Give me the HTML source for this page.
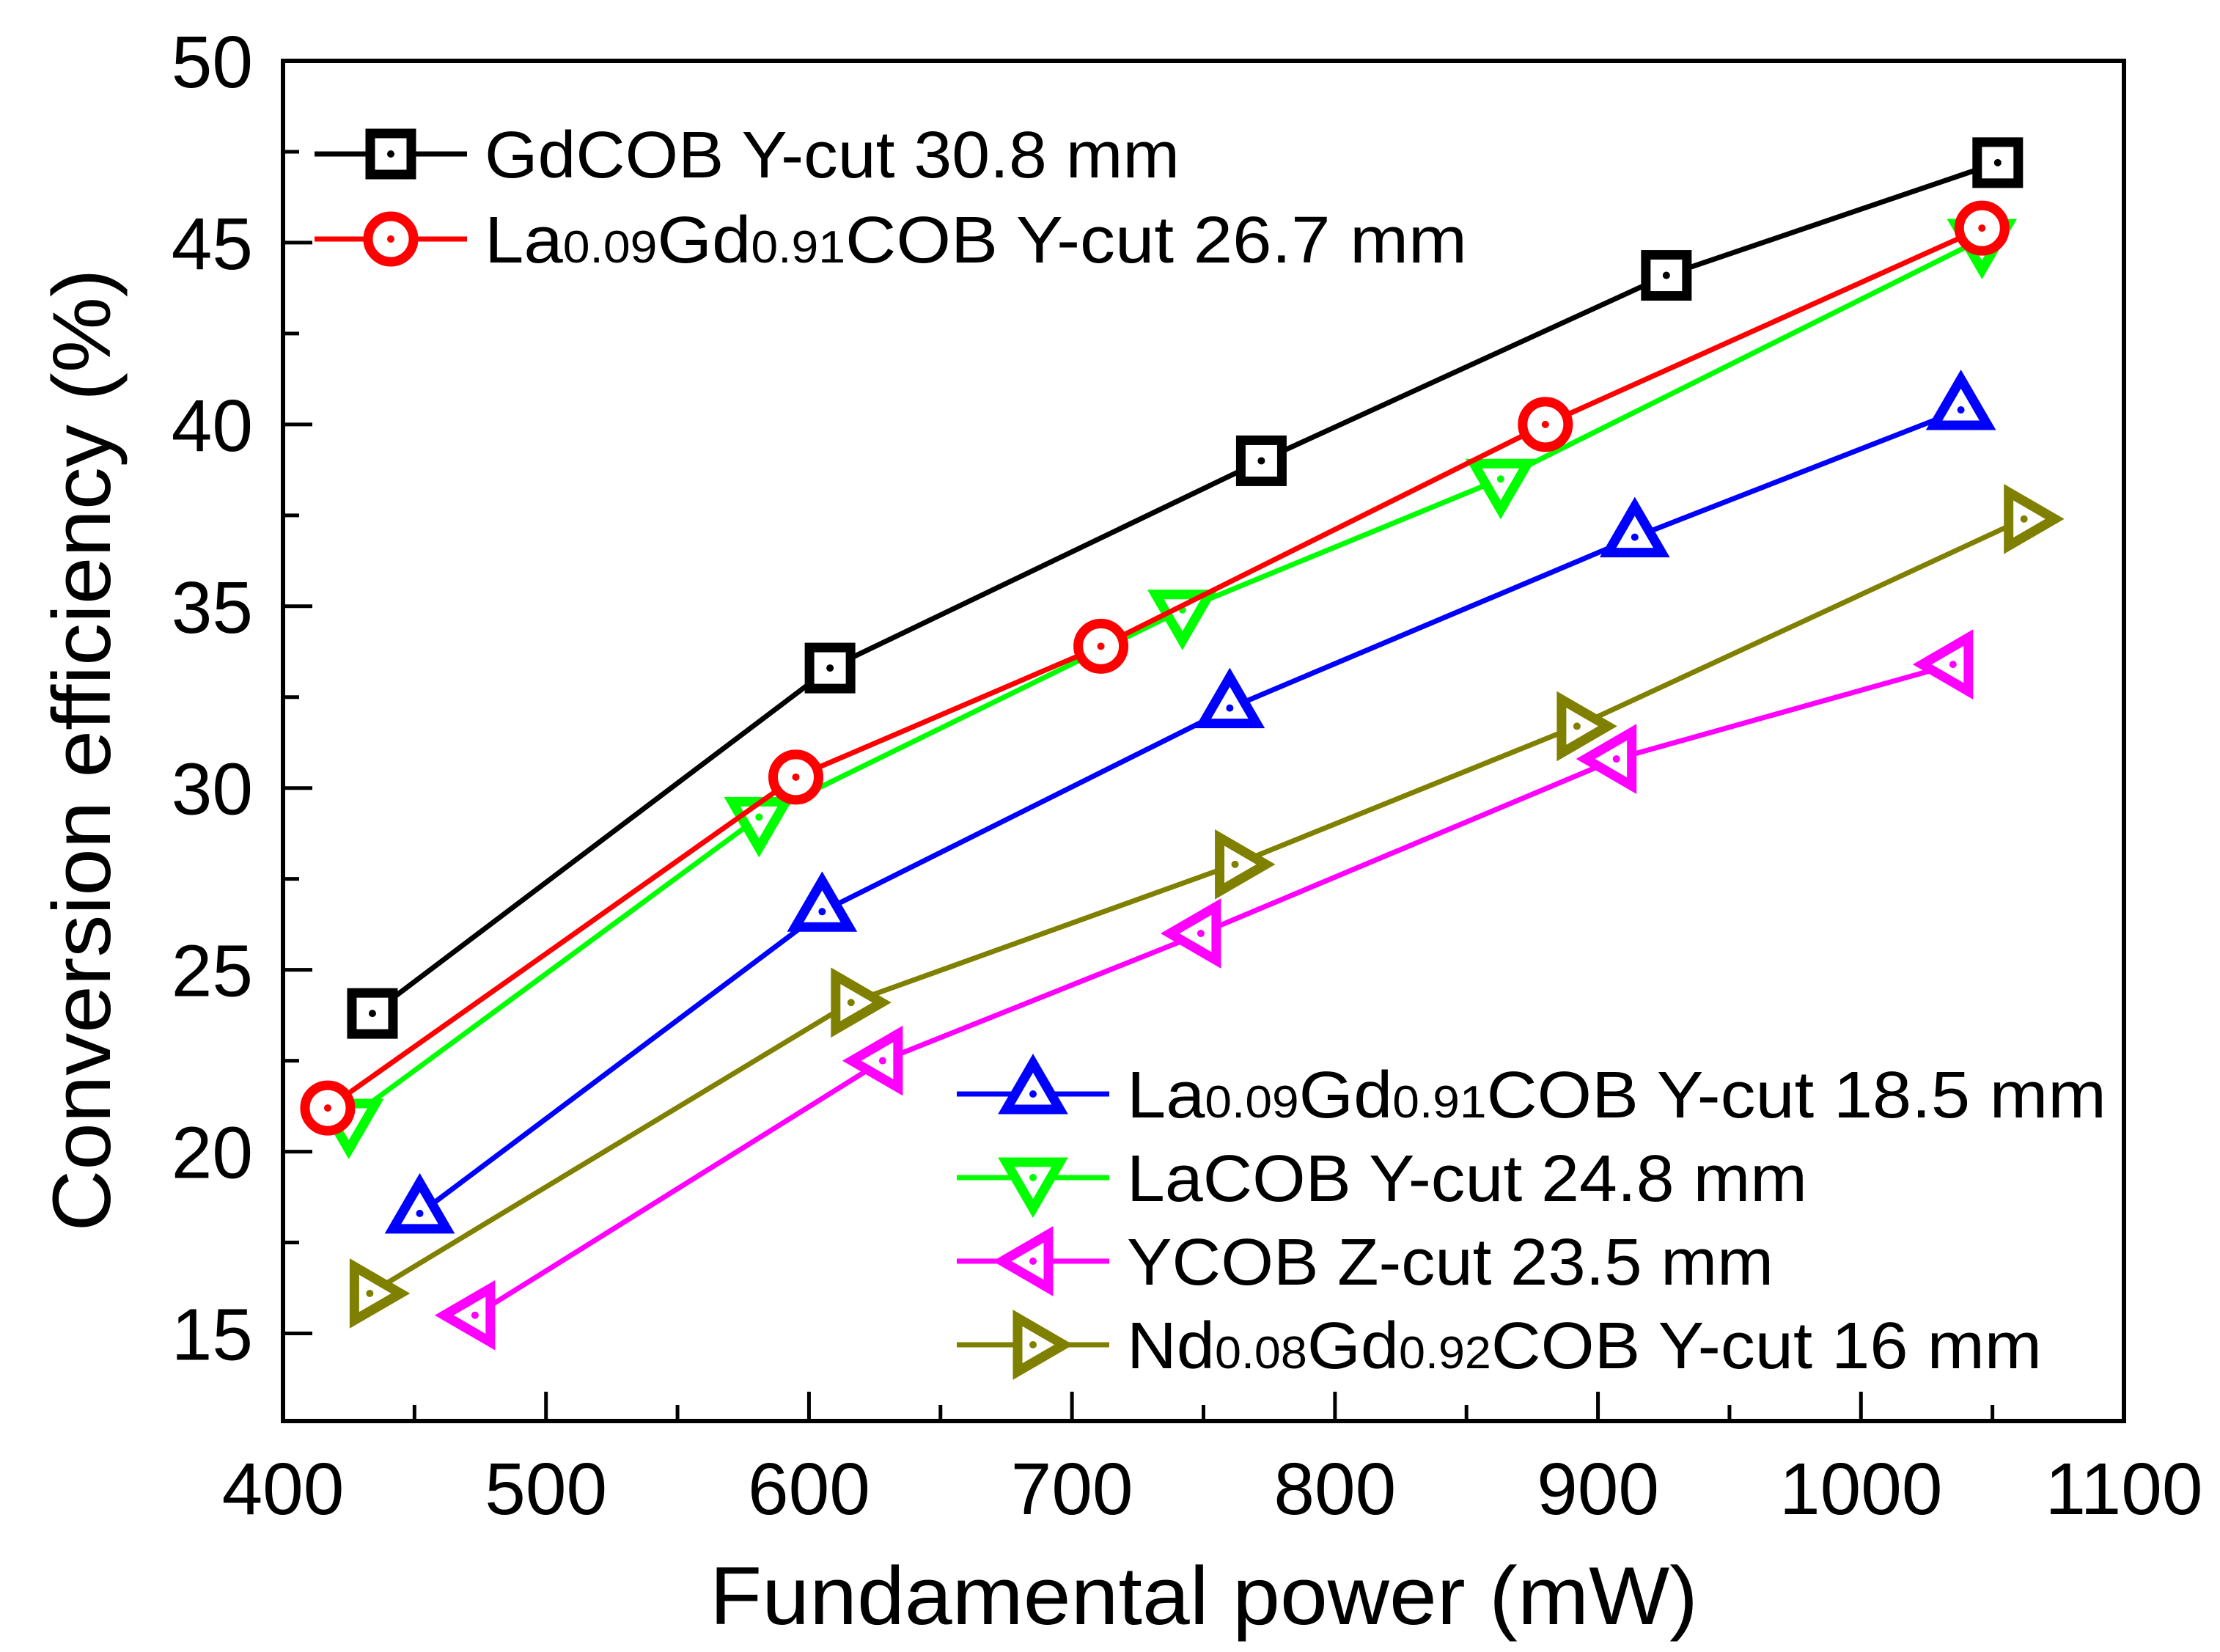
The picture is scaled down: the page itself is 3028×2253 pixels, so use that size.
<!DOCTYPE html>
<html><head><meta charset="utf-8"><style>
html,body{margin:0;padding:0;background:#fff;}
svg{display:block;font-family:"Liberation Sans",Arial,sans-serif;}
</style></head><body>
<svg id="chart" width="3028" height="2253" viewBox="0 0 3028 2253" xmlns="http://www.w3.org/2000/svg">
<rect x="386" y="83" width="2511" height="1855" fill="none" stroke="#000" stroke-width="6"/>
<g id="ticks"></g>
<g id="series"></g>
<text x="1642" y="2215" font-size="112" text-anchor="middle" textLength="1348" lengthAdjust="spacingAndGlyphs">Fundamental power (mW)</text>
<text transform="translate(150,1023) rotate(-90)" font-size="112" text-anchor="middle" textLength="1313" lengthAdjust="spacingAndGlyphs">Conversion efficiency (%)</text>
<g id="legend"></g>
</svg>
<script>
const NS="http://www.w3.org/2000/svg";
const xTicks=[400,500,600,700,800,900,1000,1100];
const yTicks=[15,20,25,30,35,40,45,50];
const seriesNames=["GdCOB Y-cut 30.8 mm","La0.09Gd0.91COB Y-cut 26.7 mm","La0.09Gd0.91COB Y-cut 18.5 mm","LaCOB Y-cut 24.8 mm","YCOB Z-cut 23.5 mm","Nd0.08Gd0.92COB Y-cut 16 mm"];
const xGd=[434,608,772,926,1052];
const yGd=[23.8,33.3,39.0,44.1,47.2];
const xLa267=[417,595,711,880,1046];
const yLa267=[21.2,30.3,33.9,40.0,45.4];
const xLa185=[452,605,760,914,1038];
const yLa185=[18.3,26.6,32.2,36.9,40.4];
const xLaCOB=[425,581,742,863,1046];
const yLaCOB=[20.9,29.2,34.9,38.5,45.1];
const xYCOB=[473,628,749,907,1035];
const yYCOB=[15.5,22.5,26.0,30.8,33.4];
const xNd=[433,616,762,892,1062];
const yNd=[16.1,24.1,27.9,31.7,37.4];

const X0=386,X1=2897,Y0=1938,Y1=83,XMIN=400,XMAX=1100,YMIN=12.59,YMAX=50;
function sx(v){return X0+(v-XMIN)/(XMAX-XMIN)*(X1-X0);}
function sy(v){return Y0-(v-YMIN)/(YMAX-YMIN)*(Y0-Y1);}
function mk(tag,attrs,parent){const e=document.createElementNS(NS,tag);for(const k in attrs)e.setAttribute(k,attrs[k]);parent.appendChild(e);return e;}

const tg=document.getElementById('ticks');
for(let v=XMIN;v<=XMAX;v+=50){
  const major=(v%100===0);
  const t=mk('line',{x1:sx(v),x2:sx(v),y1:Y0,y2:Y0-(major?40:22),stroke:'#000','stroke-width':5},tg);
  
  
}
xTicks.forEach(v=>{
  const t=mk('text',{x:sx(v),y:2065,'font-size':100,'text-anchor':'middle'},tg);
  t.textContent=v;
  
  
});
for(let v=15;v<=50;v+=2.5){
  const major=(v%5===0);
  const t=mk('line',{x1:X0,x2:X0+(major?40:22),y1:sy(v),y2:sy(v),stroke:'#000','stroke-width':5},tg);
  
  
}
yTicks.forEach(v=>{
  const t=mk('text',{x:345,y:sy(v)+36,'font-size':100,'text-anchor':'end'},tg);
  t.textContent=v;
  
  
});

function marker(type,cx,cy,color,parent){
  const g=mk('g',{},parent);
  const sw=13;
  if(type==='square') mk('rect',{x:cx-28,y:cy-28,width:56,height:56,fill:'#fff',stroke:color,'stroke-width':sw},g);
  else if(type==='circle') mk('circle',{cx:cx,cy:cy,r:31,fill:'#fff',stroke:color,'stroke-width':sw},g);
  else {
    const r=42;let pts;
    if(type==='up') pts=[[0,-r],[r*0.87,r*0.5],[-r*0.87,r*0.5]];
    else if(type==='down') pts=[[0,r],[r*0.87,-r*0.5],[-r*0.87,-r*0.5]];
    else if(type==='left') pts=[[-r,0],[r*0.5,-r*0.87],[r*0.5,r*0.87]];
    else pts=[[r,0],[-r*0.5,-r*0.87],[-r*0.5,r*0.87]];
    mk('polygon',{points:pts.map(p=>(cx+p[0])+','+(cy+p[1])).join(' '),fill:'#fff',stroke:color,'stroke-width':sw,'stroke-linejoin':'miter'},g);
  }
  mk('circle',{cx:cx,cy:cy,r:5,fill:color},g);
  return g;
}

const sg=document.getElementById('series');
const defs=[
 {xs:xLaCOB,ys:yLaCOB,c:'#00ff00',m:'down',n:'series-lacob-24-8'},
 {xs:xLa267,ys:yLa267,c:'#ff0000',m:'circle',n:'series-la-gd-26-7'},
 {xs:xGd,ys:yGd,c:'#000000',m:'square',n:'series-gdcob-30-8'},
 {xs:xLa185,ys:yLa185,c:'#0000ff',m:'up',n:'series-la-gd-18-5'},
 {xs:xYCOB,ys:yYCOB,c:'#ff00ff',m:'left',n:'series-ycob-23-5'},
 {xs:xNd,ys:yNd,c:'#808000',m:'right',n:'series-nd-gd-16'}
];
defs.forEach(d=>{
  const g=mk('g',{},sg);
  
  
  const pl=mk('polyline',{points:d.xs.map((x,i)=>sx(x)+','+sy(d.ys[i])).join(' '),fill:'none',stroke:d.c,'stroke-width':7},g);
  
  
  d.xs.forEach((x,i)=>{
    const m=marker(d.m,sx(x),sy(d.ys[i]),d.c,g);
    
    
  });
});

const lg=document.getElementById('legend');
const legendItems=[
 {c:'#000000',m:'square',x:429,y:210,t:[['GdCOB Y-cut 30.8 mm',0]],L:948},
 {c:'#ff0000',m:'circle',x:429,y:326,t:[['La',0],['0.09',1],['Gd',0],['0.91',1],['COB Y-cut  26.7 mm',0]],L:1340},
 {c:'#0000ff',m:'up',x:1305,y:1492,t:[['La',0],['0.09',1],['Gd',0],['0.91',1],['COB Y-cut  18.5 mm',0]],L:1336},
 {c:'#00ff00',m:'down',x:1305,y:1606,t:[['LaCOB Y-cut 24.8 mm',0]],L:928},
 {c:'#ff00ff',m:'left',x:1305,y:1720,t:[['YCOB Z-cut 23.5 mm',0]],L:882},
 {c:'#808000',m:'right',x:1305,y:1834,t:[['Nd',0],['0.08',1],['Gd',0],['0.92',1],['COB Y-cut 16 mm',0]],L:1248}
];
legendItems.forEach((it,i)=>{
  const g=mk('g',{},lg);
  
  
  mk('line',{x1:it.x,x2:it.x+208,y1:it.y,y2:it.y,stroke:it.c,'stroke-width':7},g);
  marker(it.m,it.x+104,it.y,it.c,g);
  const t=mk('text',{x:it.x+232,y:it.y+32,'font-size':90,textLength:it.L,lengthAdjust:'spacingAndGlyphs'},g);
  it.t.forEach(p=>{const s=mk('tspan',{'font-size':p[1]?62:90},t);s.textContent=p[0];});
});
</script>
</body></html>
